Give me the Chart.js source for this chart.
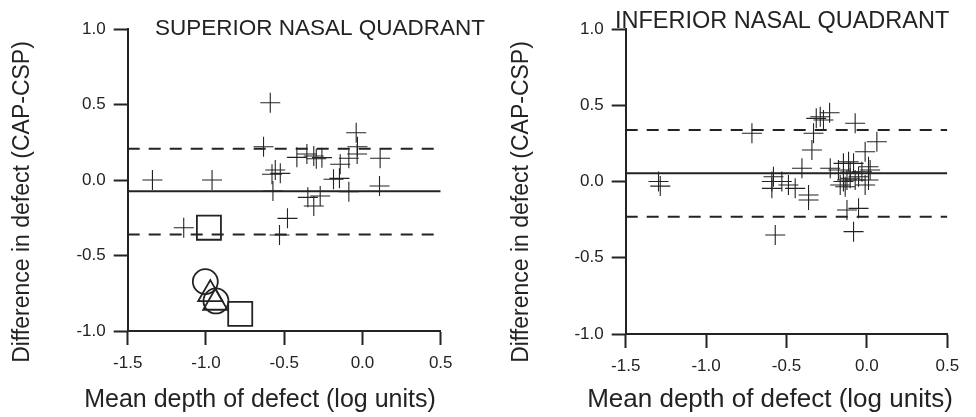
<!DOCTYPE html>
<html>
<head>
<meta charset="utf-8">
<script src="https://cdn.jsdelivr.net/npm/chart.js@4.4.1/dist/chart.umd.min.js"></script>
<style>
  html, body { margin: 0; padding: 0; background: #fff; }
  #wrap { position: relative; width: 976px; height: 417px; overflow: hidden; }
  canvas { position: absolute; top: 0; }
  #c1 { left: 0; }
  #c2 { left: 488px; }
</style>
</head>
<body>
<div id="wrap">
  <canvas id="c1" width="488" height="417"></canvas>
  <canvas id="c2" width="488" height="417"></canvas>
</div>
<script>
// ---- tick labels ----
const xTickValues = [-1.5, -1.0, -0.5, 0.0, 0.5];
const xTickLabels = ['-1.5', '-1.0', '-0.5', '0.0', '0.5'];
const yTickValues = [-1.0, -0.5, 0.0, 0.5, 1.0];
const yTickLabels = ['-1.0', '-0.5', '0.0', '0.5', '1.0'];

// ---- text ----
const supTitle = 'SUPERIOR NASAL QUADRANT';
const infTitle = 'INFERIOR NASAL QUADRANT';
const xTitle = 'Mean depth of defect (log units)';
const yTitle = 'Difference in defect (CAP-CSP)';

// ---- superior nasal quadrant ----
const supCrossX = [-0.589, -1.342, -0.961, -0.632, -0.557, -0.578, -0.525, -0.572, -0.479, -0.53, -1.142, -0.419, -0.355, -0.311, -0.295, -0.259, -0.349, -0.311, -0.27, -0.185, -0.147, -0.142, -0.087, -0.034, -0.04, -0.032, -0.087, 0.113, 0.109];
const supCrossY = [0.512, 0.0, 0.0, 0.22, 0.066, 0.038, 0.044, -0.073, -0.254, -0.364, -0.316, 0.15, 0.172, 0.159, 0.141, 0.148, -0.115, -0.172, -0.106, 0.005, 0.011, 0.104, 0.144, 0.172, 0.313, 0.22, -0.077, 0.144, -0.04];
const supSquareX = [-0.981, -0.781];
const supSquareY = [-0.316, -0.887];
const supCircleX = [-1.004, -0.936];
const supCircleY = [-0.673, -0.801];
const supTriangleX = [-0.972, -0.94];
const supTriangleY = [-0.756, -0.813];
const supLines = [-0.074, 0.207, -0.361]; // mean, upper limit, lower limit

// ---- inferior nasal quadrant ----
const infCrossX = [-1.296, -1.285, -0.715, -0.57, -0.581, -0.591, -0.591, -0.529, -0.488, -0.446, -0.404, -0.363, -0.363, -0.342, -0.332, -0.315, -0.29, -0.27, -0.232, -0.073, -0.083, -0.124, -0.052, 0.062, -0.011, 0.01, 0.02, 0.01, -0.011, -0.228, -0.177, -0.146, -0.114, -0.083, -0.146, -0.124, -0.104, -0.166, -0.135, -0.073, -0.052, -0.104, -0.031];
const infCrossY = [0.0, -0.03, 0.316, -0.351, 0.031, 0.0, -0.045, 0.0, -0.023, -0.045, 0.087, -0.089, -0.121, 0.207, 0.316, 0.414, 0.425, 0.403, 0.451, 0.382, -0.329, -0.187, -0.176, 0.261, 0.195, 0.097, 0.075, 0.01, -0.023, 0.087, 0.075, 0.119, 0.13, 0.119, 0.0, 0.01, 0.021, -0.023, -0.034, 0.01, 0.031, 0.062, 0.064];
const infLines = [0.054, 0.338, -0.231];

const INK = '#232323';
const FONT = "'Liberation Sans', Arial, Helvetica, sans-serif";
Chart.defaults.font.family = FONT;
Chart.defaults.color = INK;

function pts(xs, ys) { return xs.map((x, i) => ({ x: x, y: ys[i] })); }
function hline(y) { return [{ x: xTickValues[0], y: y }, { x: xTickValues[xTickValues.length - 1], y: y }]; }

const textPlugin = {
  id: 'panelText',
  afterDraw(chart, args, o) {
    const ctx = chart.ctx;
    ctx.save();
    ctx.fillStyle = INK;
    ctx.font = o.titleSize + 'px ' + FONT;
    ctx.textAlign = 'left';
    ctx.textBaseline = 'alphabetic';
    ctx.fillText(o.title, o.titleX, o.titleY);
    ctx.font = o.xSize + 'px ' + FONT;
    ctx.textAlign = 'center';
    ctx.fillText(xTitle, o.xTitleX, o.xTitleY);
    ctx.font = o.ySize + 'px ' + FONT;
    ctx.translate(o.yTitleX, o.yTitleY);
    ctx.rotate(-Math.PI / 2);
    ctx.textAlign = 'center';
    ctx.textBaseline = 'middle';
    ctx.fillText(yTitle, 0, 0);
    ctx.restore();
  }
};

function makeChart(id, cfg) {
  const datasets = [
    { type: 'line', data: hline(cfg.lines[0]), borderColor: INK, borderWidth: 2, pointRadius: 0, fill: false },
    { type: 'line', data: hline(cfg.lines[1]), borderColor: INK, borderWidth: 2, borderDash: [12, 9], pointRadius: 0, fill: false },
    { type: 'line', data: hline(cfg.lines[2]), borderColor: INK, borderWidth: 2, borderDash: [12, 9], pointRadius: 0, fill: false },
    { type: 'scatter', data: pts(cfg.crossX, cfg.crossY), pointStyle: 'cross', pointRadius: 10, borderColor: INK, borderWidth: 1.1, backgroundColor: INK }
  ];
  if (cfg.squareX) {
    datasets.push({ type: 'scatter', data: pts(cfg.squareX, cfg.squareY), pointStyle: 'rect', pointRadius: 17, borderColor: INK, borderWidth: 1.8, backgroundColor: 'rgba(0,0,0,0)' });
    datasets.push({ type: 'scatter', data: pts(cfg.circleX, cfg.circleY), pointStyle: 'circle', pointRadius: 12.5, borderColor: INK, borderWidth: 1.8, backgroundColor: 'rgba(0,0,0,0)' });
    datasets.push({ type: 'scatter', data: pts(cfg.triX, cfg.triY), pointStyle: 'triangle', pointRadius: 14, borderColor: INK, borderWidth: 1.8, backgroundColor: 'rgba(0,0,0,0)' });
  }
  const tickFont = { family: FONT, size: cfg.tickSize };
  return new Chart(document.getElementById(id), {
    type: 'scatter',
    data: { datasets: datasets },
    plugins: [textPlugin],
    options: {
      responsive: false,
      animation: false,
      events: [],
      layout: { padding: { left: 0, right: cfg.padRight, top: cfg.top, bottom: 0 } },
      plugins: {
        legend: { display: false },
        tooltip: { enabled: false },
        panelText: cfg.text
      },
      scales: {
        x: {
          type: 'linear', min: -1.5, max: 0.5,
          afterFit(s) { s.height = cfg.xH; },
          afterBuildTicks(s) { s.ticks = xTickValues.map(v => ({ value: v })); },
          border: { display: true, color: INK, width: 2 },
          grid: { drawOnChartArea: false, drawTicks: true, tickLength: 14, tickWidth: 2, tickColor: INK, color: INK },
          ticks: { font: tickFont, color: INK, padding: 8, maxRotation: 0, autoSkip: false,
                   callback: (v, i) => xTickLabels[i] }
        },
        y: {
          type: 'linear', min: -1.0, max: 1.0,
          afterFit(s) { s.width = cfg.yW; },
          afterBuildTicks(s) { s.ticks = yTickValues.map(v => ({ value: v })); },
          border: { display: true, color: INK, width: 2 },
          grid: { drawOnChartArea: false, drawTicks: true, tickLength: 14, tickWidth: 2, tickColor: INK, color: INK },
          ticks: { font: tickFont, color: INK, padding: 8, autoSkip: false,
                   callback: (v, i) => yTickLabels[i] }
        }
      }
    }
  });
}

makeChart('c1', {
  crossX: supCrossX, crossY: supCrossY,
  squareX: supSquareX, squareY: supSquareY,
  circleX: supCircleX, circleY: supCircleY,
  triX: supTriangleX, triY: supTriangleY,
  lines: supLines, tickSize: 17,
  yW: 127.7, xH: 86, top: 29, padRight: 47.3,
  text: { title: supTitle, titleSize: 22.5, titleX: 155, titleY: 34.5,
          xSize: 25, xTitleX: 260, xTitleY: 407,
          ySize: 23, yTitleX: 23, yTitleY: 202 }
});

makeChart('c2', {
  crossX: infCrossX, crossY: infCrossY,
  lines: infLines, tickSize: 17,
  yW: 137.7, xH: 83, top: 29, padRight: 28.7,
  text: { title: infTitle, titleSize: 23.5, titleX: 127, titleY: 27.5,
          xSize: 26, xTitleX: 282, xTitleY: 407,
          ySize: 23, yTitleX: 34, yTitleY: 202 }
});
</script>
</body>
</html>
